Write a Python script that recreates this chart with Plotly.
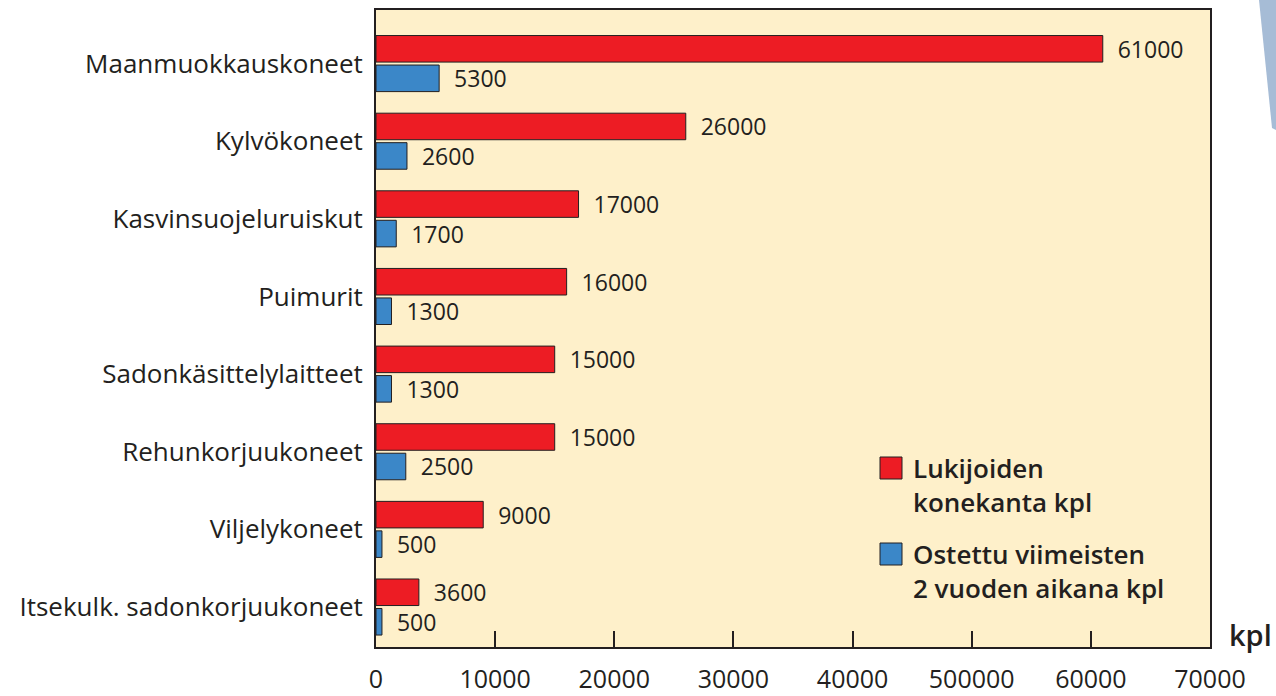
import plotly.graph_objects as go

# data
categories = ["Maanmuokkauskoneet", "Kylvökoneet", "Kasvinsuojeluruiskut", "Puimurit",
              "Sadonkäsittelylaitteet", "Rehunkorjuukoneet", "Viljelykoneet",
              "Itsekulk. sadonkorjuukoneet"]
konekanta = [61000, 26000, 17000, 16000, 15000, 15000, 9000, 3600]
ostettu = [5300, 2600, 1700, 1300, 1300, 2500, 500, 500]
tick_vals = [0, 10000, 20000, 30000, 40000, 50000, 60000, 70000]
tick_text = ["0", "10000", "20000", "30000", "40000", "500000", "60000", "70000"]  # typo kept as in source

RED = "#ed1c24"
BLUE = "#3b87c8"
INK = "#231f20"
BG = "#fef0ca"
FONT = "Open Sans"

W, H = 1276, 696
L, R, T, B = 376, 66, 10, 49
pw, ph = W - L - R, H - T - B


def px(x):
    # page pixel -> paper coordinate
    return (x - L) / pw


def py(y):
    return 1 - (y - T) / ph


fig = go.Figure()
fig.add_trace(go.Bar(
    y=categories, x=konekanta, orientation="h", name="Lukijoiden konekanta kpl",
    marker=dict(color=RED, line=dict(color=INK, width=1)),
    text=["\u00a0\u00a0" + str(v) for v in konekanta], textposition="outside",
    textfont=dict(family=FONT, size=23, color=INK), cliponaxis=False, constraintext="none",
))
fig.add_trace(go.Bar(
    y=categories, x=ostettu, orientation="h", name="Ostettu viimeisten 2 vuoden aikana kpl",
    marker=dict(color=BLUE, line=dict(color=INK, width=1)),
    text=["\u00a0\u00a0" + str(v) for v in ostettu], textposition="outside",
    textfont=dict(family=FONT, size=23, color=INK), cliponaxis=False, constraintext="none",
))

fig.update_layout(
    width=W, height=H, autosize=False,
    margin=dict(l=L, r=R, t=T, b=B),
    paper_bgcolor="white", plot_bgcolor=BG,
    barmode="group", bargap=0.24, bargroupgap=0.1,
    showlegend=False,
    font=dict(family=FONT, color=INK),
)
fig.update_xaxes(
    range=[0, 70000], tickvals=tick_vals, ticktext=tick_text,
    ticks="inside", ticklen=16, tickwidth=2, tickcolor=INK,
    showgrid=False, zeroline=False, automargin=False,
    showline=True, linecolor=INK, linewidth=2, mirror=True,
    tickfont=dict(family=FONT, size=25, color=INK), ticklabelstandoff=9,
)
fig.update_yaxes(
    range=[7.515, -0.69], showgrid=False, zeroline=False, automargin=False,
    showline=True, linecolor=INK, linewidth=2, mirror=True,
    ticks="", tickfont=dict(family=FONT, size=26, color=INK), ticklabelstandoff=6,
)

# legend drawn by hand (bigger squares than plotly's own legend)
for color, y0, lines in [(RED, 457, ["Lukijoiden", "konekanta kpl"]),
                         (BLUE, 543, ["Ostettu viimeisten", "2 vuoden aikana kpl"])]:
    fig.add_shape(type="rect", xref="paper", yref="paper",
                  x0=px(880), x1=px(902), y0=py(y0), y1=py(y0 + 22),
                  fillcolor=color, line=dict(color=INK, width=1))
    for i, line in enumerate(lines):
        fig.add_annotation(xref="paper", yref="paper", x=px(911), y=py(y0 + 11 + 34 * i),
                           text=line, showarrow=False, xanchor="left", yanchor="middle",
                           font=dict(family=FONT, size=26, color=INK, weight=600))

fig.add_annotation(xref="paper", yref="paper", x=px(1274), y=py(634), text="kpl",
                   showarrow=False, xanchor="right", yanchor="middle",
                   font=dict(family=FONT, size=29, color=INK, weight=600))

# blue decoration in the top right corner
fig.add_shape(type="path", xref="paper", yref="paper",
              path=f"M{px(1259)},{py(0)} L{px(1276)},{py(0)} L{px(1276)},{py(130)} L{px(1272)},{py(128)} Z",
              fillcolor="#a6bcd6", line=dict(width=0), layer="above")

# drop the browser's default 8px body margin so the figure fills the window
fig.write_html("out.html", config={"displayModeBar": False},
               post_script="document.body.style.margin='0';document.body.style.overflow='hidden';")
